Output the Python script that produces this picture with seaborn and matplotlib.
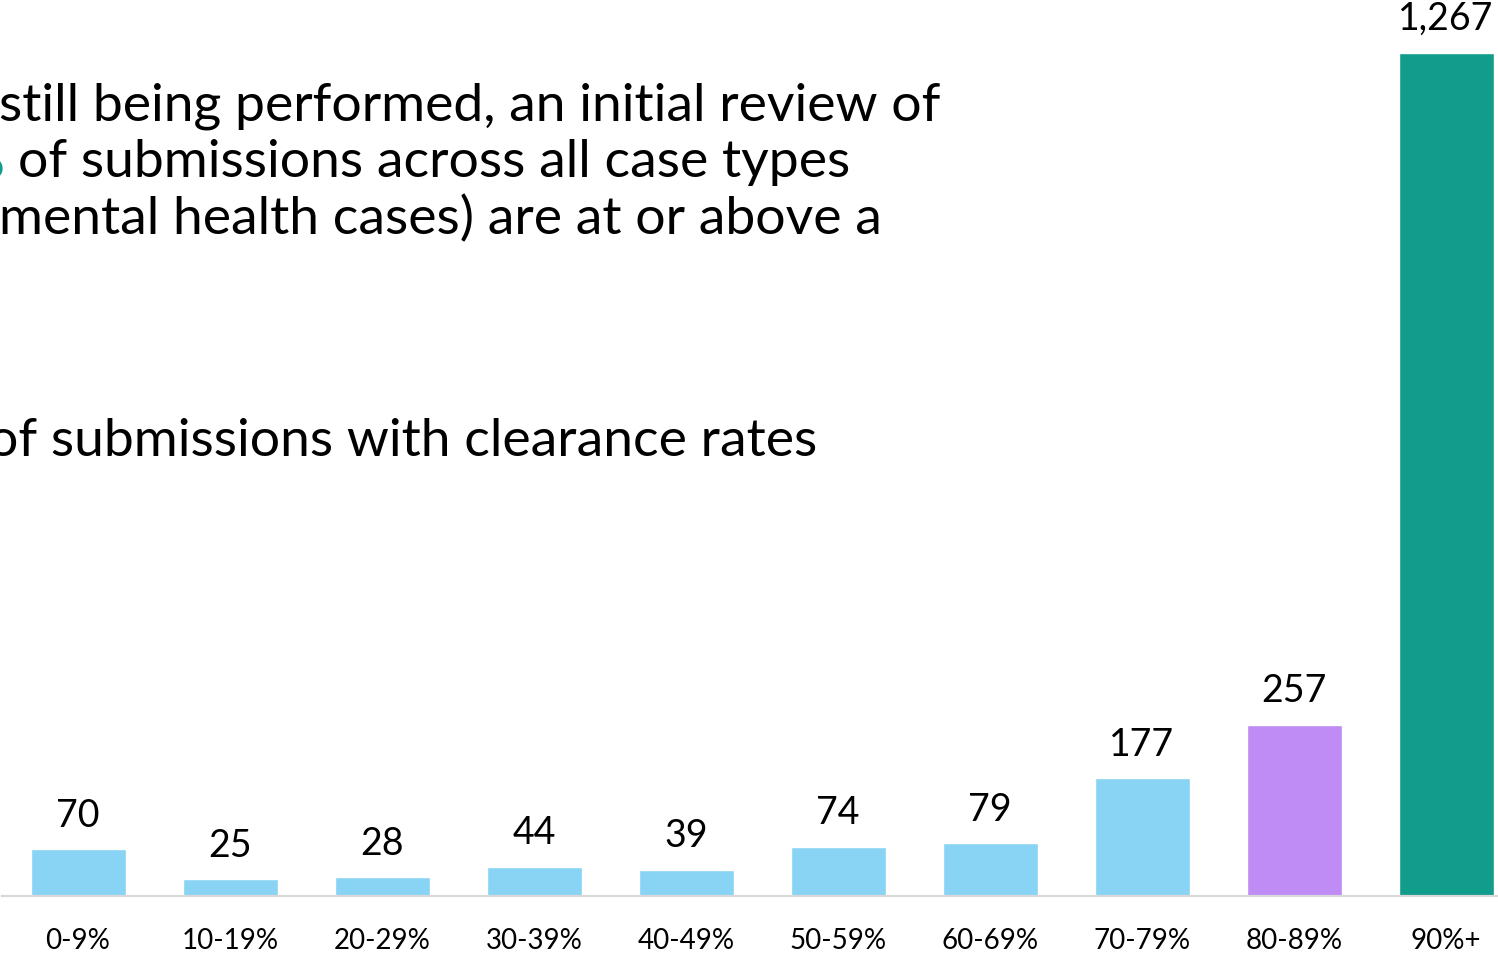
import matplotlib
matplotlib.use('Agg')
import matplotlib.pyplot as plt
import seaborn as sns


# =========================================================
# DATA
# =========================================================

categories = ['0-9%', '10-19%', '20-29%', '30-39%', '40-49%',
              '50-59%', '60-69%', '70-79%', '80-89%', '90%+']
submissions = [70, 25, 28, 44, 39, 74, 79, 177, 257, 1267]
bar_colors = ['#89D3F5'] * 8 + ['#BF8BF5', '#129C8C']

text_lines = [
    'still being performed, an initial review of',
    'of submissions across all case types',
    'mental health cases) are at or above a',
]
text_last = 'of submissions with clearance rates'


# =========================================================
# FIGURE
# =========================================================

sns.set_theme(style='white')
plt.rcParams['font.family'] = ['Lato', 'DejaVu Sans']
plt.rcParams['text.color'] = 'black'
plt.rcParams['xtick.color'] = 'black'

W, H = 1498, 954
fig = plt.figure(figsize=(W / 100, H / 100), dpi=100)

# axes in pixel terms: x from 2 to 1522 (right part is cut), baseline at y=897
ax = fig.add_axes([2 / W, (H - 897) / H, 1520 / W, 897 / H])

sns.barplot(
    x=categories,
    y=submissions,
    hue=categories,
    palette=bar_colors,
    saturation=1,
    width=0.625,
    legend=False,
    ax=ax
)

ax.set_xlim(-0.5, 9.5)
ax.set_ylim(0, 1348)

for i, v in enumerate(submissions):
    ax.annotate(f'{v:,}', (i, v), xytext=(0, 12), textcoords='offset points',
                ha='center', va='bottom', fontsize=27, color='black')

ax.set_yticks([])
ax.set_ylabel('')
ax.set_xlabel('')
ax.tick_params(axis='x', length=0, pad=22, labelsize=20, labelcolor='black')
for s in ['top', 'left', 'right']:
    ax.spines[s].set_visible(False)
ax.spines['bottom'].set_color('#D9D9D9')
ax.spines['bottom'].set_linewidth(1.6)

# overlaid slide text (cut off at the left edge)
fs = 38.5
fig.text(-1 / W, 1 - 106 / H, text_lines[0], fontsize=fs, va='center', ha='left')
fig.text(5 / W, 1 - 163 / H, '%', fontsize=fs, va='center', ha='right',
         color='#129C8C')
fig.text(18 / W, 1 - 163 / H, text_lines[1], fontsize=fs, va='center',
         ha='left')
fig.text(-1 / W, 1 - 219 / H, text_lines[2], fontsize=fs, va='center', ha='left')
fig.text(-12 / W, 1 - 441 / H, text_last, fontsize=fs, va='center', ha='left')

fig.savefig('out.png', dpi=100)
